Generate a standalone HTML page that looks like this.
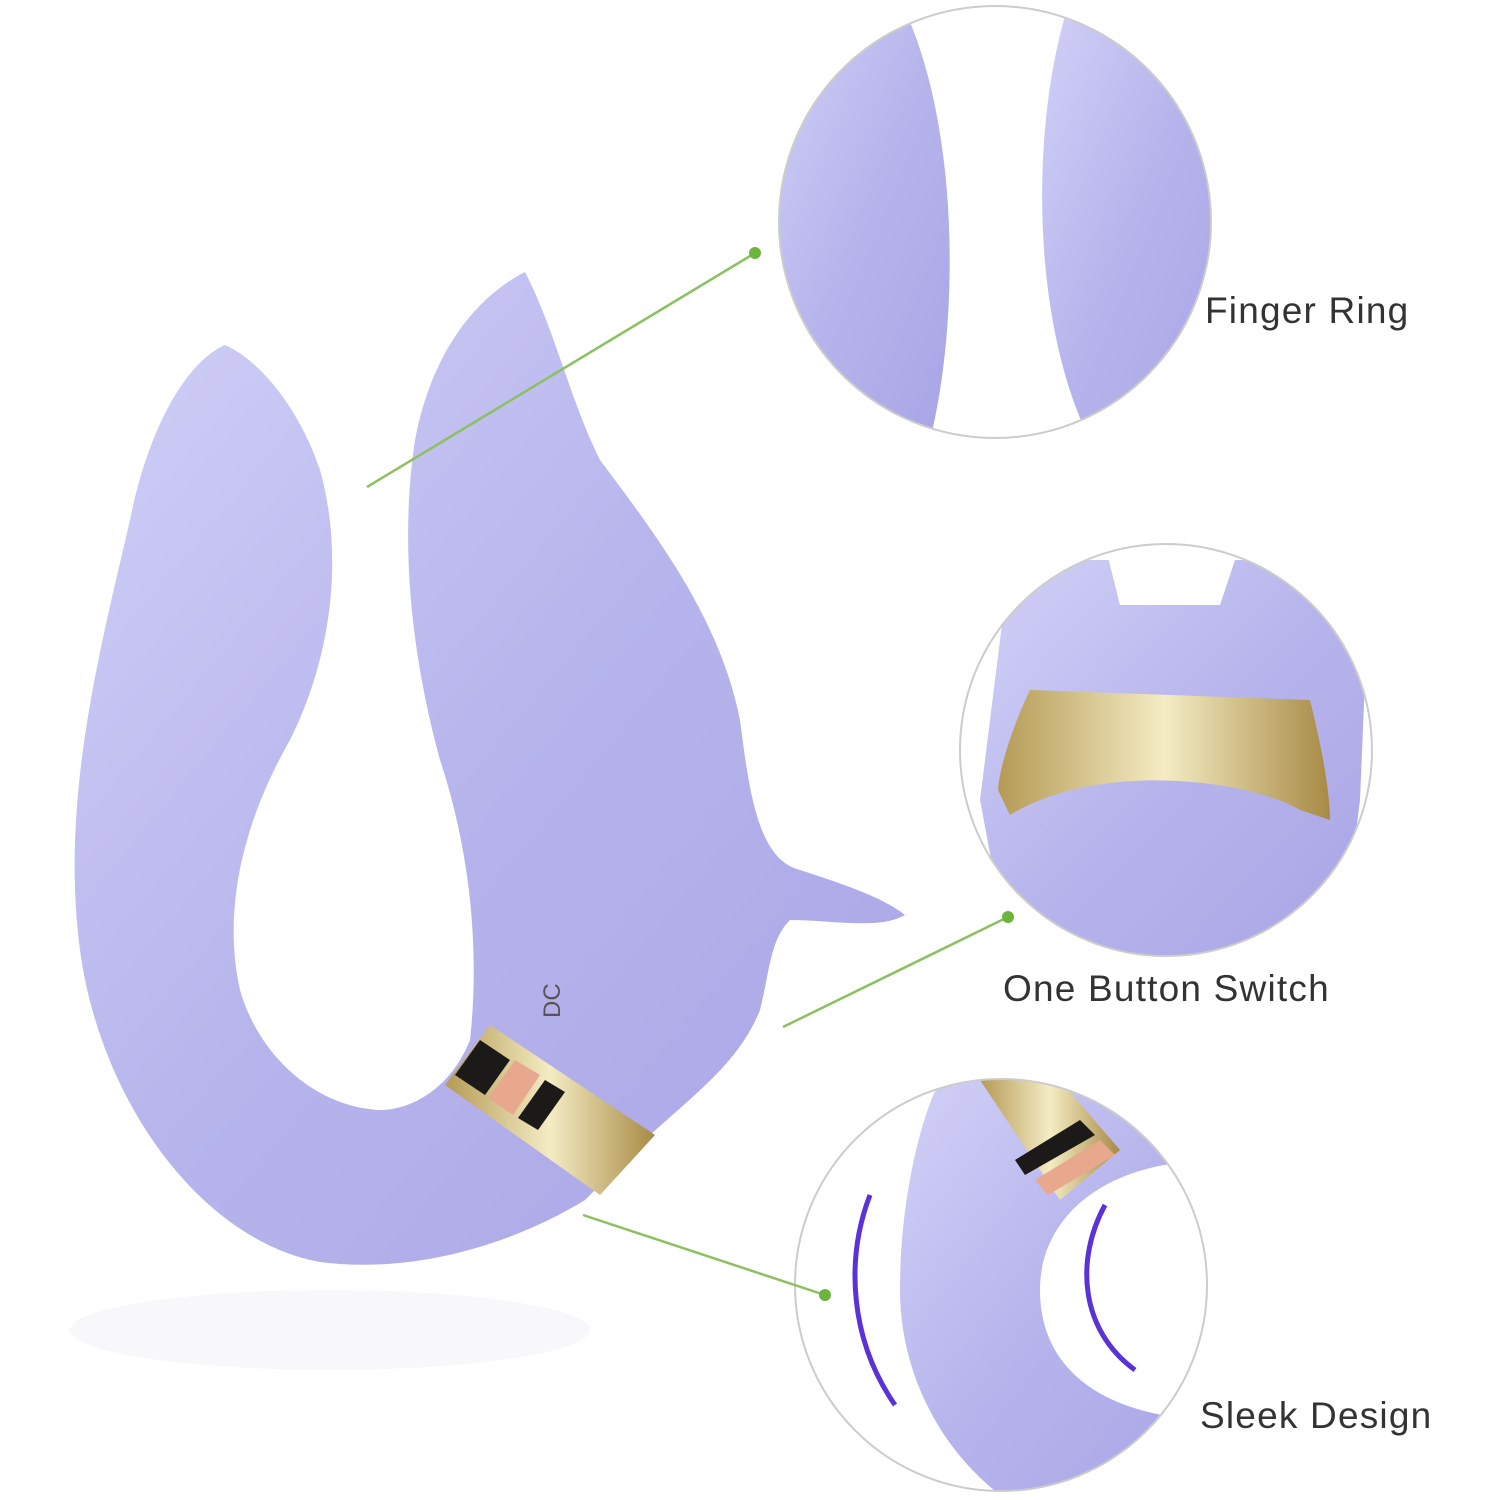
<!DOCTYPE html>
<html><head><meta charset="utf-8"><style>
html,body{margin:0;padding:0;background:#fff;}
.l{position:absolute;font-family:"Liberation Sans",sans-serif;font-size:37px;color:#333;letter-spacing:1.2px}
</style></head><body>
<div style="position:relative;width:1500px;height:1500px;overflow:hidden">
<svg width="1500" height="1500" viewBox="0 0 1500 1500" style="position:absolute;left:0;top:0">
<defs>
<linearGradient id="g" x1="0" y1="0" x2="1" y2="1">
<stop offset="0" stop-color="#d2d1f7"/><stop offset="0.5" stop-color="#b7b4ec"/><stop offset="1" stop-color="#a9a5e6"/>
</linearGradient>
<linearGradient id="gold" x1="0" y1="0" x2="1" y2="0">
<stop offset="0" stop-color="#b59a55"/><stop offset="0.5" stop-color="#f4ecc4"/><stop offset="1" stop-color="#a88a45"/>
</linearGradient>
<clipPath id="c1"><circle cx="995" cy="222" r="216"/></clipPath>
<clipPath id="c2"><circle cx="1166" cy="750" r="206"/></clipPath>
<clipPath id="c3"><circle cx="1001" cy="1285" r="206"/></clipPath>
</defs>
<ellipse cx="330" cy="1330" rx="260" ry="40" fill="#f8f8fb"/>
<!-- product -->
<path d="M225 345 C190 360 150 420 130 520 C100 650 60 800 80 950 C100 1100 200 1240 320 1262 C420 1275 520 1240 585 1200 L650 1135 C700 1090 740 1060 760 1010 C770 970 770 940 790 920 C830 920 880 930 905 915 C880 895 830 880 800 870 C760 860 750 800 740 720 C720 620 660 540 600 460 C570 400 555 330 525 272 C470 300 430 360 415 440 C400 540 410 650 440 760 C470 850 480 950 470 1040 C450 1090 410 1110 380 1110 C320 1108 260 1060 240 990 C220 900 250 810 290 740 C330 660 345 560 320 470 C300 410 260 360 225 345 Z" fill="url(#g)"/>
<path d="M445 1085 L490 1025 L655 1135 L600 1195 Z" fill="url(#gold)"/>
<path d="M455 1075 L480 1040 L510 1060 L485 1095 Z" fill="#1c1a18"/>
<path d="M488 1098 L515 1060 L540 1075 L513 1115 Z" fill="#e8a88e"/>
<path d="M518 1118 L545 1080 L565 1092 L538 1130 Z" fill="#1c1a18"/>
<text x="560" y="1018" transform="rotate(-90 560 1018)" font-family="Liberation Sans,sans-serif" font-size="24" fill="#555">DC</text>
<!-- circle 1 -->
<g clip-path="url(#c1)">
<rect x="770" y="0" width="450" height="450" fill="#fff"/>
<path d="M770 0 L900 0 C960 120 960 320 930 440 L770 440 Z" fill="url(#g)"/>
<path d="M1070 0 C1030 120 1030 320 1090 440 L1220 440 L1220 0 Z" fill="url(#g)"/>
</g>
<circle cx="995" cy="222" r="216" fill="none" stroke="#ccc" stroke-width="2"/>
<!-- circle 2 -->
<g clip-path="url(#c2)">
<rect x="950" y="540" width="430" height="420" fill="#fff"/>
<path d="M1010 560 L1370 560 L1360 800 L1340 960 L1010 960 L980 800 Z" fill="url(#g)"/>
<path d="M1105 545 L1120 605 L1220 605 L1240 545 Z" fill="#fff"/>
<path d="M998 790 C1000 760 1020 710 1030 690 L1310 700 C1320 740 1330 790 1330 820 L1300 810 C1250 780 1100 760 1010 815 Z" fill="url(#gold)"/>
</g>
<circle cx="1166" cy="750" r="206" fill="none" stroke="#ccc" stroke-width="2"/>
<!-- circle 3 -->
<g clip-path="url(#c3)">
<rect x="790" y="1075" width="425" height="420" fill="#fff"/>
<path d="M940 1080 L1220 1080 L1220 1160 C1100 1160 1040 1220 1040 1290 C1040 1380 1120 1420 1220 1420 L1220 1495 L1000 1495 C930 1440 900 1360 900 1290 C900 1200 920 1120 940 1080 Z" fill="url(#g)"/>
<path d="M980 1080 L1060 1080 L1120 1150 L1060 1200 Z" fill="url(#gold)"/>
<path d="M1015 1160 L1080 1120 L1095 1135 L1025 1175 Z" fill="#1c1a18"/>
<path d="M1035 1180 L1100 1140 L1115 1155 L1048 1195 Z" fill="#e8a88e"/>
<path d="M870 1195 C845 1260 850 1340 895 1405" stroke="#5a32d8" stroke-width="5" fill="none"/>
<path d="M1105 1205 C1075 1260 1080 1330 1135 1370" stroke="#5a32d8" stroke-width="5" fill="none"/>
</g>
<circle cx="1001" cy="1285" r="206" fill="none" stroke="#ccc" stroke-width="2"/>
<!-- lines -->
<g stroke="#8cc060" stroke-width="2.5" fill="none">
<line x1="367" y1="487" x2="755" y2="253"/>
<line x1="783" y1="1027" x2="1008" y2="917"/>
<line x1="583" y1="1215" x2="825" y2="1295"/>
</g>
<g fill="#6cb43c"><circle cx="755" cy="253" r="6"/><circle cx="1008" cy="917" r="6"/><circle cx="825" cy="1295" r="6"/></g>
</svg>
<div class="l" style="left:1205px;top:290px">Finger Ring</div>
<div class="l" style="left:1003px;top:968px">One Button Switch</div>
<div class="l" style="left:1200px;top:1395px">Sleek Design</div>
</div>
</body></html>
